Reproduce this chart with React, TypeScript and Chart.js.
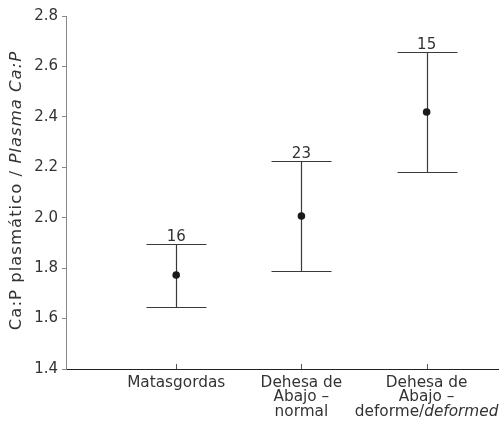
import React, { useEffect, useRef } from "react";
import { Chart, registerables } from "chart.js";
Chart.register(...registerables);

// Category labels; text between * is italic
const categoryLines: string[][] = [
  ["Matasgordas"],
  ["Dehesa de", "Abajo –", "normal"],
  ["Dehesa de", "Abajo –", "deforme/*deformed*"],
];
const categoryPos = [1, 2, 3];
const means = [1.773, 2.007, 2.419];
const upper = [1.896, 2.225, 2.659];
const lower = [1.646, 1.79, 2.18];
const nLabels = ["16", "23", "15"];
const yTitle = "Ca:P plasmático / *Plasma Ca:P*";
const yMin = 1.4;
const yMax = 2.8;
const yStep = 0.2;

const FONT = "'DejaVu Sans', Verdana, sans-serif";
const TEXT = "#333333";

function segments(s: string) {
  const parts = s.split("*");
  return parts.map((t, i) => ({ text: t, italic: i % 2 === 1 })).filter((p) => p.text.length > 0);
}

function drawMixed(ctx: CanvasRenderingContext2D, s: string, cx: number, y: number, size: number) {
  const segs = segments(s);
  let total = 0;
  const widths = segs.map((sg) => {
    ctx.font = `${sg.italic ? "italic " : ""}${size}px ${FONT}`;
    const w = ctx.measureText(sg.text).width;
    total += w;
    return w;
  });
  let x = cx - total / 2;
  ctx.textAlign = "left";
  segs.forEach((sg, i) => {
    ctx.font = `${sg.italic ? "italic " : ""}${size}px ${FONT}`;
    ctx.fillText(sg.text, x, y);
    x += widths[i];
  });
}

const errorPlugin = {
  id: "errorBars",
  beforeDatasetsDraw(chart: any) {
    const { ctx, scales } = chart;
    const xs = scales.x;
    const ys = scales.y;
    ctx.save();
    ctx.strokeStyle = "#3a3a3a";
    ctx.lineWidth = 1.2;
    categoryPos.forEach((c, i) => {
      const x = Math.round(xs.getPixelForValue(c)) + 0.5;
      const yu = Math.round(ys.getPixelForValue(upper[i])) + 0.5;
      const yl = Math.round(ys.getPixelForValue(lower[i])) + 0.5;
      ctx.beginPath();
      ctx.moveTo(x, yu);
      ctx.lineTo(x, yl);
      ctx.moveTo(x - 30, yu);
      ctx.lineTo(x + 30, yu);
      ctx.moveTo(x - 30, yl);
      ctx.lineTo(x + 30, yl);
      ctx.stroke();
    });
    ctx.restore();
  },
  afterDraw(chart: any) {
    const { ctx, scales, chartArea } = chart;
    const xs = scales.x;
    const ys = scales.y;
    ctx.save();
    ctx.fillStyle = TEXT;
    // n labels
    ctx.textBaseline = "alphabetic";
    categoryPos.forEach((c, i) => {
      const x = xs.getPixelForValue(c);
      const yu = ys.getPixelForValue(upper[i]);
      ctx.font = `15px ${FONT}`;
      ctx.textAlign = "center";
      ctx.fillText(nLabels[i], x, yu - 3);
    });
    // x tick marks (inward)
    ctx.strokeStyle = "#555";
    ctx.lineWidth = 1;
    categoryPos.forEach((c) => {
      const x = Math.round(xs.getPixelForValue(c)) + 0.5;
      ctx.beginPath();
      ctx.moveTo(x, chartArea.bottom);
      ctx.lineTo(x, chartArea.bottom - 5);
      ctx.stroke();
    });
    // x labels
    ctx.textBaseline = "top";
    categoryPos.forEach((c, i) => {
      const x = xs.getPixelForValue(c);
      categoryLines[i].forEach((line, j) => {
        drawMixed(ctx, line, x, chartArea.bottom + 6 + j * 14.5, 15.3);
      });
    });
    // y title
    ctx.translate(17, (chartArea.top + chartArea.bottom) / 2 - 2);
    ctx.rotate(-Math.PI / 2);
    ctx.textBaseline = "middle";
    (ctx as any).letterSpacing = "1px";
    drawMixed(ctx, yTitle, 0, 0, 16.5);
    ctx.restore();
  },
};

export default function App() {
  const ref = useRef<HTMLCanvasElement>(null);
  useEffect(() => {
    if (!ref.current) return;
    const chart = new Chart(ref.current, {
      type: "scatter",
      data: {
        datasets: [
          {
            data: categoryPos.map((c, i) => ({ x: c, y: means[i] })),
            pointRadius: 3.8,
            pointBackgroundColor: "#1a1a1a",
            pointBorderWidth: 0,
          },
        ],
      },
      options: {
        animation: false,
        responsive: false,
        events: [],
        layout: { padding: { left: 0, right: 6, top: 16, bottom: 0 } },
        plugins: { legend: { display: false }, tooltip: { enabled: false } },
        scales: {
          x: {
            type: "linear",
            min: 0.12,
            max: 3.57,
            ticks: { display: false },
            grid: { display: false },
            border: { display: true, color: "#222", width: 1 },
            afterFit: (s: any) => {
              s.height = 55;
            },
          },
          y: {
            min: yMin,
            max: yMax,
            ticks: {
              stepSize: yStep,
              color: TEXT,
              font: { size: 15, family: FONT },
              padding: 4,
              callback: (v: any) => Number(v).toFixed(1),
            },
            grid: { drawOnChartArea: false, tickLength: 4, color: "#888" },
            border: { display: true, color: "#888", width: 1 },
            afterFit: (s: any) => {
              s.width = 66;
            },
          },
        },
      },
      plugins: [errorPlugin],
    });
    return () => chart.destroy();
  }, []);
  return (
    <div style={{ position: "absolute", left: 0, top: 0, width: 504, height: 424, background: "#fff" }}>
      <canvas ref={ref} width={504} height={424} />
    </div>
  );
}
